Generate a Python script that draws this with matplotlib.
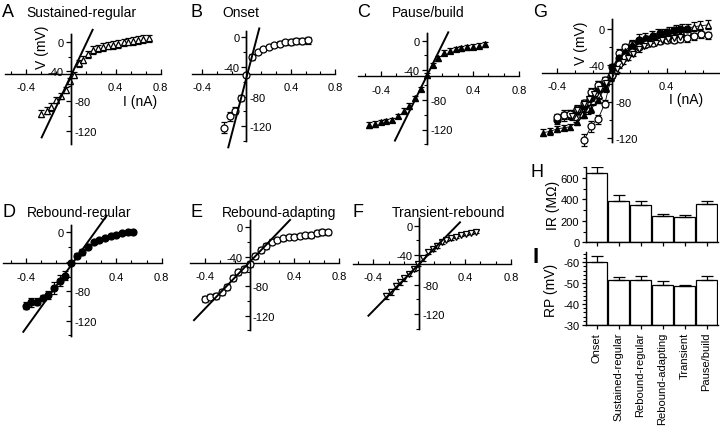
import matplotlib
matplotlib.use("Agg")
import matplotlib.pyplot as plt
from matplotlib.ticker import MultipleLocator

plt.rcParams['font.family'] = ['Liberation Sans', 'DejaVu Sans']
plt.rcParams['axes.unicode_minus'] = False
plt.rcParams['axes.linewidth'] = 1.0

# ---------------- data ----------------
# A  Sustained-regular (open triangles)
sr_I = [-0.26, -0.215, -0.175, -0.135, -0.09, -0.045, -0.005, 0.03, 0.075, 0.11, 0.15, 0.2,
        0.245, 0.29, 0.335, 0.38, 0.42, 0.47, 0.51, 0.555, 0.6, 0.645, 0.7]
sr_V = [-97, -93, -88, -79, -73, -65, -53, -45, -29, -24, -17, -11,
        -9, -7, -5.5, -4.5, -3, -1, 0, 1, 2.5, 3.5, 4.5]
sr_E = [5, 5, 5, 4, 4, 4, 4, 4, 5, 5, 5, 5, 5, 5, 5, 5, 5, 5, 5, 5, 5, 5, 5]
sr_fit_I = [-0.258, 0.195]
sr_fit_V = [-129, 16]

# B  Onset (open circles)
on_I = [-0.2, -0.15, -0.1, -0.05, 0.0, 0.05, 0.1, 0.15, 0.2, 0.25, 0.3, 0.35, 0.4, 0.45, 0.5, 0.55]
on_V = [-122, -107, -99, -82, -51, -26, -19.5, -16, -13, -10.5, -8.5, -7, -6, -5.5, -4.5, -4]
on_E = [7, 6, 5, 4, 2, 4, 3, 3, 3, 3, 3, 3, 4, 4, 4, 5]
on_fit_I = [-0.164, 0.115]
on_fit_V = [-148.7, 12]

# C  Pause/build (filled triangles)
pb_I = [-0.5, -0.45, -0.4, -0.35, -0.3, -0.25, -0.2, -0.15, -0.1, -0.05, 0.0,
        0.05, 0.1, 0.15, 0.2, 0.25, 0.3, 0.35, 0.4, 0.45, 0.5]
pb_V = [-114, -112.5, -110, -108.5, -107.5, -102, -94.5, -88, -78, -65, -47,
        -33, -24, -16, -13.5, -11.5, -10.5, -9, -8, -6.5, -5]
pb_E = [4, 4, 3, 3, 3, 3, 3, 4, 3, 3, 3, 3, 3, 3, 3, 3, 3, 3, 3, 3, 3]
pb_fit_I = [-0.276, 0.186]
pb_fit_V = [-135, 11.3]

# D  Rebound-regular (filled circles)
rr_I = [-0.4, -0.35, -0.3, -0.25, -0.2, -0.15, -0.1, -0.05, 0.0, 0.05, 0.1, 0.15,
        0.2, 0.25, 0.3, 0.35, 0.4, 0.45, 0.5, 0.55]
rr_V = [-99.5, -95, -94, -88.5, -85, -75.5, -65.5, -59, -42, -31.5, -27, -19.5,
        -12.5, -10.5, -7.5, -4.5, -3.5, -1, 0, 0]
rr_E = [5, 6, 5, 4, 5, 8, 8, 6, 3, 4, 4, 3, 2, 2, 2, 2, 2, 2, 2, 2]
rr_fit_I = [-0.421, 0.315]
rr_fit_V = [-135, 22.5]

# E  Rebound-adapting (open circles)
ra_I = [-0.4, -0.35, -0.3, -0.25, -0.2, -0.15, -0.1, -0.05, 0.0, 0.05, 0.1, 0.15,
        0.2, 0.25, 0.3, 0.35, 0.4, 0.45, 0.5, 0.55, 0.6, 0.65, 0.7]
ra_V = [-97, -95, -93, -87.5, -81.5, -69, -61, -56.5, -50, -38.5, -30.5, -25,
        -19.5, -17, -15, -13.5, -12.5, -12, -11, -10, -8, -6, -7]
ra_E = [4, 4, 4, 4, 4, 4, 4, 4, 4, 4, 4, 4, 3, 3, 3, 3, 3, 3, 3, 4, 4, 4, 4]
ra_fit_I = [-0.497, 0.363]
ra_fit_V = [-126, 10]

# F  Transient-rebound (open down-triangles)
tr_I = [-0.29, -0.25, -0.205, -0.168, -0.13, -0.086, -0.045, -0.008, 0.036, 0.079,
        0.117, 0.158, 0.2, 0.237, 0.28, 0.324, 0.367, 0.41, 0.454, 0.498]
tr_V = [-96, -89.5, -82.5, -77, -71.5, -65.5, -59, -52, -44.5, -36,
        -31.5, -27, -22.5, -19, -17, -15, -12.5, -11, -9.5, -8.5]
tr_E = [4, 4, 4, 3, 3, 3, 3, 3, 3, 3, 3, 3, 3, 2, 2, 2, 2, 2, 2, 2]
tr_fit_I = [-0.443, 0.356]
tr_fit_V = [-122.3, 4.6]

# H / I bar charts
categories = ["Onset", "Sustained-regular", "Rebound-regular",
              "Rebound-adapting", "Transient", "Pause/build"]
ir_mean = [643, 388, 348, 242, 239, 357]
ir_sem = [57, 53, 34, 22, 16, 25]
rp_mean = [-60, -51.7, -51.5, -48.9, -48.5, -51.7]
rp_sem = [2.9, 1.1, 1.8, 2.1, 0.4, 1.9]

# ---------------- figure ----------------
W, H = 720, 427
fig = plt.figure(figsize=(W / 100, H / 100), dpi=100)
TICK_FS = 8


def px_axes(l, t, r, b):
    return fig.add_axes([l / W, 1 - b / H, (r - l) / W, (b - t) / H])


def ftext(x, y, s, **kw):
    fig.text(x / W, 1 - y / H, s, **kw)


def iv_axes(x0, y0, sx, sy, xlim, ylim, vcross, xt, left_labels):
    ax = px_axes(x0 + xlim[0] * sx, y0 - ylim[1] * sy, x0 + xlim[1] * sx, y0 - ylim[0] * sy)
    ax.set_xlim(xlim)
    ax.set_ylim(ylim)
    ax.patch.set_visible(False)
    ax.spines[['top', 'right']].set_visible(False)
    ax.spines['left'].set_position(('data', 0))
    ax.spines['bottom'].set_position(('data', vcross))
    ax.set_xticks(xt)
    ax.set_xticklabels([f"{v:g}" for v in xt])
    ax.xaxis.set_minor_locator(MultipleLocator(0.4 / 3))
    ax.tick_params(axis='x', which='major', direction='in', length=3.5, width=0.9,
                   pad=6, labelsize=TICK_FS)
    ax.tick_params(axis='x', which='minor', direction='in', length=2.5, width=0.8)
    yt = [0, -40, -80, -120]
    ax.set_yticks(yt)
    ax.set_yticklabels([f"{v:g}" if v in left_labels else "" for v in yt])
    ax.yaxis.set_minor_locator(MultipleLocator(20))
    ax.tick_params(axis='y', which='major', direction='out', length=3.5, width=0.9,
                   pad=1.5, labelsize=TICK_FS)
    ax.tick_params(axis='y', which='minor', direction='out', length=2.5, width=0.8)
    ax2 = ax.twinx()
    ax2.set_ylim(ylim)
    ax2.patch.set_visible(False)
    ax2.spines[['top', 'left', 'bottom']].set_visible(False)
    ax2.spines['right'].set_position(('data', 0))
    ax2.set_yticks([-80, -120])
    ax2.set_yticklabels(["-80", "-120"])
    ax2.tick_params(axis='y', length=0, pad=2.5, labelsize=TICK_FS)
    return ax


def plot_series(ax, I, V, E, marker, filled, ms=5.0, line=False):
    ax.errorbar(I, V, yerr=E, fmt=marker, linestyle='-' if line else 'none',
                lw=0.6, color='black', mfc='black' if filled else 'white',
                mec='black', ms=ms, mew=0.9, ecolor='black', elinewidth=0.8,
                capsize=2.5, capthick=0.8, clip_on=False, zorder=3)


def plot_fit(ax, fi, fv):
    ax.plot(fi, fv, color='black', lw=1.4, clip_on=False, zorder=4)


series = [
    (sr_I, sr_V, sr_E, '^', False, 5.0, sr_fit_I, sr_fit_V),
    (on_I, on_V, on_E, 'o', False, 5.0, on_fit_I, on_fit_V),
    (pb_I, pb_V, pb_E, '^', True, 5.0, pb_fit_I, pb_fit_V),
    (rr_I, rr_V, rr_E, 'o', True, 5.0, rr_fit_I, rr_fit_V),
    (ra_I, ra_V, ra_E, 'o', False, 5.0, ra_fit_I, ra_fit_V),
    (tr_I, tr_V, tr_E, 'v', False, 4.0, tr_fit_I, tr_fit_V),
]

# panel geometry: (x0px, y0px, px per nA, px per mV, xlim, ylim, x-axis crossing)
geo = [
    (70.7, 42.7, 112.5, 0.742, (-0.58, 0.8), (-138, 10), -43.5, ['0', '-40']),
    (246.5, 38.3, 111.0, 0.740, (-0.49, 0.8), (-140, 9), -49.6, ['0', '-40']),
    (426.8, 41.7, 115.4, 0.740, (-0.6, 0.8), (-140, 11), -48.1, ['0', '-40']),
    (71.0, 233.3, 113.25, 0.737, (-0.6, 0.8), (-141, 10), -42.1, ['0']),
    (249.5, 228.3, 111.7, 0.737, (-0.53, 0.8), (-140, 10), -48.4, ['0', '-40']),
    (419.2, 226.7, 114.6, 0.736, (-0.58, 0.8), (-140, 10), -52.0, ['0', '-40']),
]
left_map = {'0': 0, '-40': -40}

for (I, V, E, mk, fill, ms, fi, fv), (x0, y0, sx, sy, xl, yl, vc, ll) in zip(series, geo):
    ax = iv_axes(x0, y0, sx, sy, xl, yl, vc, [-0.4, 0.4, 0.8], [left_map[s] for s in ll])
    plot_series(ax, I, V, E, mk, fill, ms)
    plot_fit(ax, fi, fv)

# G overlay
axg = iv_axes(611.7, 30, 137.5, 0.91, (-0.51, 0.78), (-124, 11), -48.4, [-0.4, 0.4], [0, -40])
for (I, V, E, mk, fill, ms, fi, fv) in series:
    plot_series(axg, I, V, E, mk, fill, ms, line=True)

# H: input resistance
x = list(range(len(categories)))
axh = px_axes(585.5, 168, 717.5, 243.3)
axh.set_xlim(-0.5, 5.5)
axh.set_ylim(0, 700)
axh.bar(x, ir_mean, width=0.94, color='white', edgecolor='black', lw=0.9,
        yerr=[[0] * len(ir_sem), ir_sem], error_kw=dict(ecolor='black', elinewidth=0.9,
                                                        capsize=4, capthick=0.9))
axh.spines[['top', 'right']].set_visible(False)
axh.set_xticks(x)
axh.set_xticklabels([])
axh.set_yticks([0, 200, 400, 600])
axh.yaxis.set_minor_locator(MultipleLocator(100))
axh.tick_params(axis='both', which='major', length=3, width=0.9, pad=1.5, labelsize=TICK_FS)
axh.tick_params(axis='y', which='minor', length=2, width=0.8)

# I: resting potential
axr = px_axes(585.5, 252.7, 717.5, 326)
axr.set_xlim(-0.5, 5.5)
axr.set_ylim(-30, -65)
axr.bar(x, [m + 30 for m in rp_mean], bottom=-30, width=0.94, color='white',
        edgecolor='black', lw=0.9,
        yerr=[rp_sem, [0] * len(rp_sem)], error_kw=dict(ecolor='black', elinewidth=0.9,
                                                        capsize=4, capthick=0.9))
axr.spines[['top', 'right']].set_visible(False)
axr.set_xticks(x)
axr.set_xticklabels(categories, rotation=90, fontsize=9, va='top')
axr.set_yticks([-60, -50, -40, -30])
axr.yaxis.set_minor_locator(MultipleLocator(2))
axr.tick_params(axis='both', which='major', length=3, width=0.9, pad=1.5, labelsize=TICK_FS)
axr.tick_params(axis='x', pad=2)
axr.tick_params(axis='y', which='minor', length=2, width=0.8)

# ---------------- text ----------------
LET = 13
TIT = 10
LAB = 10
for (lx, tx, y, letter, title) in [
        (2, 26, 17, "A", "Sustained-regular"),
        (190, 222, 17, "B", "Onset"),
        (357, 392, 17, "C", "Pause/build"),
        (2, 27, 217, "D", "Rebound-regular"),
        (190, 222, 217, "E", "Rebound-adapting"),
        (352, 392, 217, "F", "Transient-rebound")]:
    ftext(lx, y, letter, fontsize=LET, va='baseline', ha='left')
    ftext(tx, y, title, fontsize=TIT, va='baseline', ha='left')
ftext(533, 17, "G", fontsize=LET, va='baseline', ha='left')
ftext(531, 177, "H", fontsize=LET, va='baseline', ha='left')
ftext(532, 263, "I", fontsize=16, va='baseline', ha='left', fontweight='bold')

ftext(42, 47, "V (mV)", fontsize=LAB, rotation=90, ha='center', va='center')
ftext(140, 102, "I (nA)", fontsize=LAB, ha='center', va='center')
ftext(581, 43, "V (mV)", fontsize=LAB, rotation=90, ha='center', va='center')
ftext(686, 100, "I (nA)", fontsize=LAB, ha='center', va='center')
ftext(553, 205, "IR (M\u03a9)", fontsize=LAB, rotation=90, ha='center', va='center')
ftext(551, 290, "RP (mV)", fontsize=LAB, rotation=90, ha='center', va='center')

fig.savefig("out.png", dpi=100)
